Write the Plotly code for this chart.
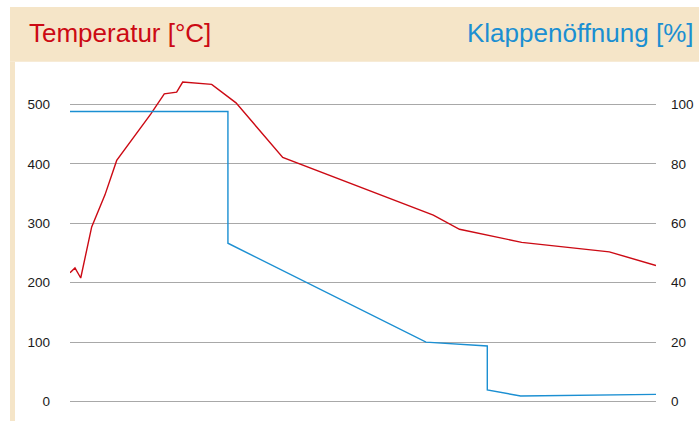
import plotly.graph_objects as go

# Temperature curve (left axis, °C) over an unlabelled time axis (0..100)
temp_t = [0, 0.85, 1.83, 3.7, 5.97, 7.97, 13.77, 16.09, 18.2, 19.23, 24.18, 28.33,
          36.3, 62.0, 66.47, 77.08, 92.03, 100]
temp_v = [217, 225, 208, 294, 348, 406, 484, 518, 521, 538, 534, 503,
          411, 314, 290, 268, 252, 229]

# Flap opening (right axis, %)
flap_t = [0, 26.95, 26.95, 60.75, 71.21, 71.21, 76.9, 100]
flap_v = [97.7, 97.7, 53.3, 20.0, 18.7, 3.9, 1.85, 2.4]

left_ticks = [0, 100, 200, 300, 400, 500]
right_ticks = [0, 20, 40, 60, 80, 100]

RED = "#cc0a14"
BLUE = "#1b8fd2"
BEIGE = "#f5e5c8"
GRID = "#a8a8a8"

W, H = 699, 421
L, R, T, B = 70, 43, 70, 6
pw, ph = W - L - R, H - T - B

def px(x):
    return (x - L) / pw

def py(y):
    return (H - B - y) / ph

# y scale: 0 at pixel 401.5, 500 at pixel 104.6
k = (401.5 - 104.6) / 500.0
ymax = (401.5 - T) / k
ymin = -((H - B) - 401.5) / k

fig = go.Figure()
fig.add_trace(go.Scatter(x=temp_t, y=temp_v, mode="lines",
                         line=dict(color=RED, width=1.4), yaxis="y", showlegend=False))
fig.add_trace(go.Scatter(x=flap_t, y=flap_v, mode="lines",
                         line=dict(color=BLUE, width=1.4), yaxis="y2", showlegend=False))

font_ticks = dict(family="Liberation Sans, Arial, sans-serif", size=13.5, color="#1a1a1a")

fig.update_layout(
    width=W, height=H,
    margin=dict(l=L, r=R, t=T, b=B, pad=0),
    paper_bgcolor="white", plot_bgcolor="white",
    xaxis=dict(range=[0, 100], showgrid=False, zeroline=False, showticklabels=False,
               showline=False, ticks=""),
    yaxis=dict(range=[ymin, ymax], tickvals=left_ticks, ticktext=[str(v) for v in left_ticks],
               showgrid=True, gridcolor=GRID, gridwidth=1.3, zeroline=False,
               showline=False, ticks="", tickfont=font_ticks, ticklabelstandoff=19),
    yaxis2=dict(range=[ymin / 5, ymax / 5], tickvals=right_ticks,
                ticktext=[str(v) for v in right_ticks],
                overlaying="y", side="right", showgrid=False, zeroline=False,
                showline=False, ticks="", tickfont=font_ticks, ticklabelstandoff=14),
    shapes=[
        dict(type="rect", xref="paper", yref="paper", x0=px(10), x1=px(W + 5),
             y0=py(61.7), y1=py(7), fillcolor=BEIGE, line=dict(width=0), layer="below"),
        dict(type="rect", xref="paper", yref="paper", x0=px(10), x1=px(15),
             y0=py(H + 5), y1=py(61.7), fillcolor=BEIGE, line=dict(width=0), layer="below"),
    ],
    annotations=[
        dict(text="Temperatur [°C]", xref="paper", yref="paper", x=px(27), y=py(33),
             xanchor="left", yanchor="middle", showarrow=False,
             font=dict(family="Liberation Sans, Arial, sans-serif", size=26, color=RED)),
        dict(text="Klappenöffnung [%]", xref="paper", yref="paper", x=px(695), y=py(33),
             xanchor="right", yanchor="middle", showarrow=False,
             font=dict(family="Liberation Sans, Arial, sans-serif", size=26, color=BLUE)),
    ],
)

fig.write_html("out.html", config={"displayModeBar": False})

# remove the browser's default page margin so the figure sits at the top-left corner
with open("out.html", "r", encoding="utf-8") as f:
    html = f.read()
html = html.replace("<head>", "<head><style>html,body{margin:0;padding:0;overflow:hidden;}</style>", 1)
with open("out.html", "w", encoding="utf-8") as f:
    f.write(html)
